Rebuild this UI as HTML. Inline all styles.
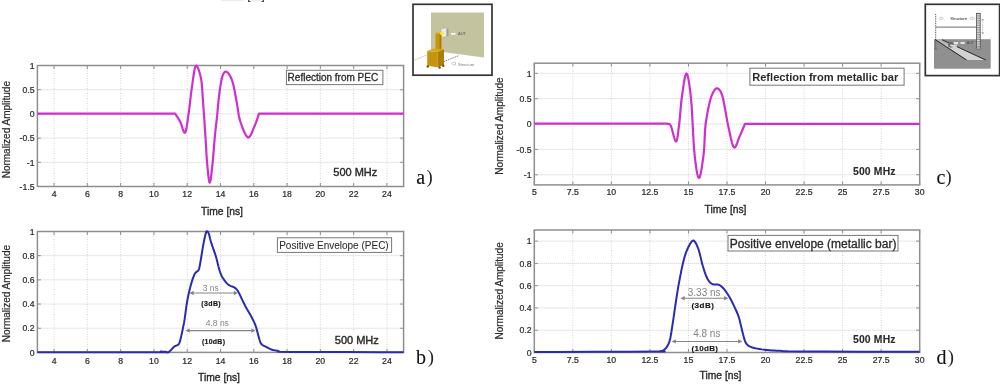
<!DOCTYPE html>
<html><head><meta charset="utf-8"><style>
html,body{margin:0;padding:0;background:#fff;}
body{width:1000px;height:387px;overflow:hidden;}
svg{display:block;filter:blur(0.45px);}
</style></head><body>
<svg width="1000" height="387" viewBox="0 0 1000 387">
<rect width="1000" height="387" fill="#fff"/>
<line x1="54.05" y1="65.50" x2="54.05" y2="186.50" stroke="#d4d4d4" stroke-width="1" stroke-dasharray="1,1.5"/>
<line x1="87.34" y1="65.50" x2="87.34" y2="186.50" stroke="#d4d4d4" stroke-width="1" stroke-dasharray="1,1.5"/>
<line x1="120.63" y1="65.50" x2="120.63" y2="186.50" stroke="#d4d4d4" stroke-width="1" stroke-dasharray="1,1.5"/>
<line x1="153.92" y1="65.50" x2="153.92" y2="186.50" stroke="#d4d4d4" stroke-width="1" stroke-dasharray="1,1.5"/>
<line x1="187.21" y1="65.50" x2="187.21" y2="186.50" stroke="#d4d4d4" stroke-width="1" stroke-dasharray="1,1.5"/>
<line x1="220.50" y1="65.50" x2="220.50" y2="186.50" stroke="#d4d4d4" stroke-width="1" stroke-dasharray="1,1.5"/>
<line x1="253.79" y1="65.50" x2="253.79" y2="186.50" stroke="#d4d4d4" stroke-width="1" stroke-dasharray="1,1.5"/>
<line x1="287.08" y1="65.50" x2="287.08" y2="186.50" stroke="#d4d4d4" stroke-width="1" stroke-dasharray="1,1.5"/>
<line x1="320.37" y1="65.50" x2="320.37" y2="186.50" stroke="#d4d4d4" stroke-width="1" stroke-dasharray="1,1.5"/>
<line x1="353.66" y1="65.50" x2="353.66" y2="186.50" stroke="#d4d4d4" stroke-width="1" stroke-dasharray="1,1.5"/>
<line x1="386.95" y1="65.50" x2="386.95" y2="186.50" stroke="#d4d4d4" stroke-width="1" stroke-dasharray="1,1.5"/>
<line x1="37.40" y1="89.70" x2="403.60" y2="89.70" stroke="#cdcdcd" stroke-width="1" stroke-dasharray="1,1"/>
<line x1="37.40" y1="113.90" x2="403.60" y2="113.90" stroke="#cdcdcd" stroke-width="1" stroke-dasharray="1,1"/>
<line x1="37.40" y1="138.10" x2="403.60" y2="138.10" stroke="#cdcdcd" stroke-width="1" stroke-dasharray="1,1"/>
<line x1="37.40" y1="162.30" x2="403.60" y2="162.30" stroke="#cdcdcd" stroke-width="1" stroke-dasharray="1,1"/>
<line x1="54.05" y1="186.50" x2="54.05" y2="183.00" stroke="#8e8e8e" stroke-width="1"/>
<line x1="54.05" y1="65.50" x2="54.05" y2="69.00" stroke="#8e8e8e" stroke-width="1"/>
<line x1="87.34" y1="186.50" x2="87.34" y2="183.00" stroke="#8e8e8e" stroke-width="1"/>
<line x1="87.34" y1="65.50" x2="87.34" y2="69.00" stroke="#8e8e8e" stroke-width="1"/>
<line x1="120.63" y1="186.50" x2="120.63" y2="183.00" stroke="#8e8e8e" stroke-width="1"/>
<line x1="120.63" y1="65.50" x2="120.63" y2="69.00" stroke="#8e8e8e" stroke-width="1"/>
<line x1="153.92" y1="186.50" x2="153.92" y2="183.00" stroke="#8e8e8e" stroke-width="1"/>
<line x1="153.92" y1="65.50" x2="153.92" y2="69.00" stroke="#8e8e8e" stroke-width="1"/>
<line x1="187.21" y1="186.50" x2="187.21" y2="183.00" stroke="#8e8e8e" stroke-width="1"/>
<line x1="187.21" y1="65.50" x2="187.21" y2="69.00" stroke="#8e8e8e" stroke-width="1"/>
<line x1="220.50" y1="186.50" x2="220.50" y2="183.00" stroke="#8e8e8e" stroke-width="1"/>
<line x1="220.50" y1="65.50" x2="220.50" y2="69.00" stroke="#8e8e8e" stroke-width="1"/>
<line x1="253.79" y1="186.50" x2="253.79" y2="183.00" stroke="#8e8e8e" stroke-width="1"/>
<line x1="253.79" y1="65.50" x2="253.79" y2="69.00" stroke="#8e8e8e" stroke-width="1"/>
<line x1="287.08" y1="186.50" x2="287.08" y2="183.00" stroke="#8e8e8e" stroke-width="1"/>
<line x1="287.08" y1="65.50" x2="287.08" y2="69.00" stroke="#8e8e8e" stroke-width="1"/>
<line x1="320.37" y1="186.50" x2="320.37" y2="183.00" stroke="#8e8e8e" stroke-width="1"/>
<line x1="320.37" y1="65.50" x2="320.37" y2="69.00" stroke="#8e8e8e" stroke-width="1"/>
<line x1="353.66" y1="186.50" x2="353.66" y2="183.00" stroke="#8e8e8e" stroke-width="1"/>
<line x1="353.66" y1="65.50" x2="353.66" y2="69.00" stroke="#8e8e8e" stroke-width="1"/>
<line x1="386.95" y1="186.50" x2="386.95" y2="183.00" stroke="#8e8e8e" stroke-width="1"/>
<line x1="386.95" y1="65.50" x2="386.95" y2="69.00" stroke="#8e8e8e" stroke-width="1"/>
<line x1="37.40" y1="65.50" x2="40.90" y2="65.50" stroke="#8e8e8e" stroke-width="1"/>
<line x1="403.60" y1="65.50" x2="400.10" y2="65.50" stroke="#8e8e8e" stroke-width="1"/>
<line x1="37.40" y1="89.70" x2="40.90" y2="89.70" stroke="#8e8e8e" stroke-width="1"/>
<line x1="403.60" y1="89.70" x2="400.10" y2="89.70" stroke="#8e8e8e" stroke-width="1"/>
<line x1="37.40" y1="113.90" x2="40.90" y2="113.90" stroke="#8e8e8e" stroke-width="1"/>
<line x1="403.60" y1="113.90" x2="400.10" y2="113.90" stroke="#8e8e8e" stroke-width="1"/>
<line x1="37.40" y1="138.10" x2="40.90" y2="138.10" stroke="#8e8e8e" stroke-width="1"/>
<line x1="403.60" y1="138.10" x2="400.10" y2="138.10" stroke="#8e8e8e" stroke-width="1"/>
<line x1="37.40" y1="162.30" x2="40.90" y2="162.30" stroke="#8e8e8e" stroke-width="1"/>
<line x1="403.60" y1="162.30" x2="400.10" y2="162.30" stroke="#8e8e8e" stroke-width="1"/>
<line x1="37.40" y1="186.50" x2="40.90" y2="186.50" stroke="#8e8e8e" stroke-width="1"/>
<line x1="403.60" y1="186.50" x2="400.10" y2="186.50" stroke="#8e8e8e" stroke-width="1"/>
<rect x="37.40" y="65.50" width="366.20" height="121.00" fill="none" stroke="#8e8e8e" stroke-width="1.5"/>
<text x="54.05" y="197.00" font-family="Liberation Sans, sans-serif" font-size="8.7" fill="#2a2a2a" stroke="#2a2a2a" stroke-width="0.22" text-anchor="middle">4</text>
<text x="87.34" y="197.00" font-family="Liberation Sans, sans-serif" font-size="8.7" fill="#2a2a2a" stroke="#2a2a2a" stroke-width="0.22" text-anchor="middle">6</text>
<text x="120.63" y="197.00" font-family="Liberation Sans, sans-serif" font-size="8.7" fill="#2a2a2a" stroke="#2a2a2a" stroke-width="0.22" text-anchor="middle">8</text>
<text x="153.92" y="197.00" font-family="Liberation Sans, sans-serif" font-size="8.7" fill="#2a2a2a" stroke="#2a2a2a" stroke-width="0.22" text-anchor="middle">10</text>
<text x="187.21" y="197.00" font-family="Liberation Sans, sans-serif" font-size="8.7" fill="#2a2a2a" stroke="#2a2a2a" stroke-width="0.22" text-anchor="middle">12</text>
<text x="220.50" y="197.00" font-family="Liberation Sans, sans-serif" font-size="8.7" fill="#2a2a2a" stroke="#2a2a2a" stroke-width="0.22" text-anchor="middle">14</text>
<text x="253.79" y="197.00" font-family="Liberation Sans, sans-serif" font-size="8.7" fill="#2a2a2a" stroke="#2a2a2a" stroke-width="0.22" text-anchor="middle">16</text>
<text x="287.08" y="197.00" font-family="Liberation Sans, sans-serif" font-size="8.7" fill="#2a2a2a" stroke="#2a2a2a" stroke-width="0.22" text-anchor="middle">18</text>
<text x="320.37" y="197.00" font-family="Liberation Sans, sans-serif" font-size="8.7" fill="#2a2a2a" stroke="#2a2a2a" stroke-width="0.22" text-anchor="middle">20</text>
<text x="353.66" y="197.00" font-family="Liberation Sans, sans-serif" font-size="8.7" fill="#2a2a2a" stroke="#2a2a2a" stroke-width="0.22" text-anchor="middle">22</text>
<text x="386.95" y="197.00" font-family="Liberation Sans, sans-serif" font-size="8.7" fill="#2a2a2a" stroke="#2a2a2a" stroke-width="0.22" text-anchor="middle">24</text>
<text x="34.60" y="68.70" font-family="Liberation Sans, sans-serif" font-size="8.7" fill="#2a2a2a" stroke="#2a2a2a" stroke-width="0.22" text-anchor="end">1</text>
<text x="34.60" y="92.90" font-family="Liberation Sans, sans-serif" font-size="8.7" fill="#2a2a2a" stroke="#2a2a2a" stroke-width="0.22" text-anchor="end">0.5</text>
<text x="34.60" y="117.10" font-family="Liberation Sans, sans-serif" font-size="8.7" fill="#2a2a2a" stroke="#2a2a2a" stroke-width="0.22" text-anchor="end">0</text>
<text x="34.60" y="141.30" font-family="Liberation Sans, sans-serif" font-size="8.7" fill="#2a2a2a" stroke="#2a2a2a" stroke-width="0.22" text-anchor="end">-0.5</text>
<text x="34.60" y="165.50" font-family="Liberation Sans, sans-serif" font-size="8.7" fill="#2a2a2a" stroke="#2a2a2a" stroke-width="0.22" text-anchor="end">-1</text>
<text x="34.60" y="189.70" font-family="Liberation Sans, sans-serif" font-size="8.7" fill="#2a2a2a" stroke="#2a2a2a" stroke-width="0.22" text-anchor="end">-1.5</text>
<text x="222.00" y="214.90" font-family="Liberation Sans, sans-serif" font-size="10.3" fill="#2a2a2a" stroke="#2a2a2a" stroke-width="0.35" text-anchor="middle">Time [ns]</text>
<line x1="54.05" y1="231.50" x2="54.05" y2="352.40" stroke="#d4d4d4" stroke-width="1" stroke-dasharray="1,1.5"/>
<line x1="87.34" y1="231.50" x2="87.34" y2="352.40" stroke="#d4d4d4" stroke-width="1" stroke-dasharray="1,1.5"/>
<line x1="120.63" y1="231.50" x2="120.63" y2="352.40" stroke="#d4d4d4" stroke-width="1" stroke-dasharray="1,1.5"/>
<line x1="153.92" y1="231.50" x2="153.92" y2="352.40" stroke="#d4d4d4" stroke-width="1" stroke-dasharray="1,1.5"/>
<line x1="187.21" y1="231.50" x2="187.21" y2="352.40" stroke="#d4d4d4" stroke-width="1" stroke-dasharray="1,1.5"/>
<line x1="220.50" y1="231.50" x2="220.50" y2="352.40" stroke="#d4d4d4" stroke-width="1" stroke-dasharray="1,1.5"/>
<line x1="253.79" y1="231.50" x2="253.79" y2="352.40" stroke="#d4d4d4" stroke-width="1" stroke-dasharray="1,1.5"/>
<line x1="287.08" y1="231.50" x2="287.08" y2="352.40" stroke="#d4d4d4" stroke-width="1" stroke-dasharray="1,1.5"/>
<line x1="320.37" y1="231.50" x2="320.37" y2="352.40" stroke="#d4d4d4" stroke-width="1" stroke-dasharray="1,1.5"/>
<line x1="353.66" y1="231.50" x2="353.66" y2="352.40" stroke="#d4d4d4" stroke-width="1" stroke-dasharray="1,1.5"/>
<line x1="386.95" y1="231.50" x2="386.95" y2="352.40" stroke="#d4d4d4" stroke-width="1" stroke-dasharray="1,1.5"/>
<line x1="37.40" y1="328.22" x2="403.60" y2="328.22" stroke="#cdcdcd" stroke-width="1" stroke-dasharray="1,1"/>
<line x1="37.40" y1="304.04" x2="403.60" y2="304.04" stroke="#cdcdcd" stroke-width="1" stroke-dasharray="1,1"/>
<line x1="37.40" y1="279.86" x2="403.60" y2="279.86" stroke="#cdcdcd" stroke-width="1" stroke-dasharray="1,1"/>
<line x1="37.40" y1="255.68" x2="403.60" y2="255.68" stroke="#cdcdcd" stroke-width="1" stroke-dasharray="1,1"/>
<line x1="54.05" y1="352.40" x2="54.05" y2="348.90" stroke="#8e8e8e" stroke-width="1"/>
<line x1="54.05" y1="231.50" x2="54.05" y2="235.00" stroke="#8e8e8e" stroke-width="1"/>
<line x1="87.34" y1="352.40" x2="87.34" y2="348.90" stroke="#8e8e8e" stroke-width="1"/>
<line x1="87.34" y1="231.50" x2="87.34" y2="235.00" stroke="#8e8e8e" stroke-width="1"/>
<line x1="120.63" y1="352.40" x2="120.63" y2="348.90" stroke="#8e8e8e" stroke-width="1"/>
<line x1="120.63" y1="231.50" x2="120.63" y2="235.00" stroke="#8e8e8e" stroke-width="1"/>
<line x1="153.92" y1="352.40" x2="153.92" y2="348.90" stroke="#8e8e8e" stroke-width="1"/>
<line x1="153.92" y1="231.50" x2="153.92" y2="235.00" stroke="#8e8e8e" stroke-width="1"/>
<line x1="187.21" y1="352.40" x2="187.21" y2="348.90" stroke="#8e8e8e" stroke-width="1"/>
<line x1="187.21" y1="231.50" x2="187.21" y2="235.00" stroke="#8e8e8e" stroke-width="1"/>
<line x1="220.50" y1="352.40" x2="220.50" y2="348.90" stroke="#8e8e8e" stroke-width="1"/>
<line x1="220.50" y1="231.50" x2="220.50" y2="235.00" stroke="#8e8e8e" stroke-width="1"/>
<line x1="253.79" y1="352.40" x2="253.79" y2="348.90" stroke="#8e8e8e" stroke-width="1"/>
<line x1="253.79" y1="231.50" x2="253.79" y2="235.00" stroke="#8e8e8e" stroke-width="1"/>
<line x1="287.08" y1="352.40" x2="287.08" y2="348.90" stroke="#8e8e8e" stroke-width="1"/>
<line x1="287.08" y1="231.50" x2="287.08" y2="235.00" stroke="#8e8e8e" stroke-width="1"/>
<line x1="320.37" y1="352.40" x2="320.37" y2="348.90" stroke="#8e8e8e" stroke-width="1"/>
<line x1="320.37" y1="231.50" x2="320.37" y2="235.00" stroke="#8e8e8e" stroke-width="1"/>
<line x1="353.66" y1="352.40" x2="353.66" y2="348.90" stroke="#8e8e8e" stroke-width="1"/>
<line x1="353.66" y1="231.50" x2="353.66" y2="235.00" stroke="#8e8e8e" stroke-width="1"/>
<line x1="386.95" y1="352.40" x2="386.95" y2="348.90" stroke="#8e8e8e" stroke-width="1"/>
<line x1="386.95" y1="231.50" x2="386.95" y2="235.00" stroke="#8e8e8e" stroke-width="1"/>
<line x1="37.40" y1="352.40" x2="40.90" y2="352.40" stroke="#8e8e8e" stroke-width="1"/>
<line x1="403.60" y1="352.40" x2="400.10" y2="352.40" stroke="#8e8e8e" stroke-width="1"/>
<line x1="37.40" y1="328.22" x2="40.90" y2="328.22" stroke="#8e8e8e" stroke-width="1"/>
<line x1="403.60" y1="328.22" x2="400.10" y2="328.22" stroke="#8e8e8e" stroke-width="1"/>
<line x1="37.40" y1="304.04" x2="40.90" y2="304.04" stroke="#8e8e8e" stroke-width="1"/>
<line x1="403.60" y1="304.04" x2="400.10" y2="304.04" stroke="#8e8e8e" stroke-width="1"/>
<line x1="37.40" y1="279.86" x2="40.90" y2="279.86" stroke="#8e8e8e" stroke-width="1"/>
<line x1="403.60" y1="279.86" x2="400.10" y2="279.86" stroke="#8e8e8e" stroke-width="1"/>
<line x1="37.40" y1="255.68" x2="40.90" y2="255.68" stroke="#8e8e8e" stroke-width="1"/>
<line x1="403.60" y1="255.68" x2="400.10" y2="255.68" stroke="#8e8e8e" stroke-width="1"/>
<line x1="37.40" y1="231.50" x2="40.90" y2="231.50" stroke="#8e8e8e" stroke-width="1"/>
<line x1="403.60" y1="231.50" x2="400.10" y2="231.50" stroke="#8e8e8e" stroke-width="1"/>
<rect x="37.40" y="231.50" width="366.20" height="120.90" fill="none" stroke="#8e8e8e" stroke-width="1.5"/>
<text x="54.05" y="363.60" font-family="Liberation Sans, sans-serif" font-size="8.7" fill="#2a2a2a" stroke="#2a2a2a" stroke-width="0.22" text-anchor="middle">4</text>
<text x="87.34" y="363.60" font-family="Liberation Sans, sans-serif" font-size="8.7" fill="#2a2a2a" stroke="#2a2a2a" stroke-width="0.22" text-anchor="middle">6</text>
<text x="120.63" y="363.60" font-family="Liberation Sans, sans-serif" font-size="8.7" fill="#2a2a2a" stroke="#2a2a2a" stroke-width="0.22" text-anchor="middle">8</text>
<text x="153.92" y="363.60" font-family="Liberation Sans, sans-serif" font-size="8.7" fill="#2a2a2a" stroke="#2a2a2a" stroke-width="0.22" text-anchor="middle">10</text>
<text x="187.21" y="363.60" font-family="Liberation Sans, sans-serif" font-size="8.7" fill="#2a2a2a" stroke="#2a2a2a" stroke-width="0.22" text-anchor="middle">12</text>
<text x="220.50" y="363.60" font-family="Liberation Sans, sans-serif" font-size="8.7" fill="#2a2a2a" stroke="#2a2a2a" stroke-width="0.22" text-anchor="middle">14</text>
<text x="253.79" y="363.60" font-family="Liberation Sans, sans-serif" font-size="8.7" fill="#2a2a2a" stroke="#2a2a2a" stroke-width="0.22" text-anchor="middle">16</text>
<text x="287.08" y="363.60" font-family="Liberation Sans, sans-serif" font-size="8.7" fill="#2a2a2a" stroke="#2a2a2a" stroke-width="0.22" text-anchor="middle">18</text>
<text x="320.37" y="363.60" font-family="Liberation Sans, sans-serif" font-size="8.7" fill="#2a2a2a" stroke="#2a2a2a" stroke-width="0.22" text-anchor="middle">20</text>
<text x="353.66" y="363.60" font-family="Liberation Sans, sans-serif" font-size="8.7" fill="#2a2a2a" stroke="#2a2a2a" stroke-width="0.22" text-anchor="middle">22</text>
<text x="386.95" y="363.60" font-family="Liberation Sans, sans-serif" font-size="8.7" fill="#2a2a2a" stroke="#2a2a2a" stroke-width="0.22" text-anchor="middle">24</text>
<text x="34.60" y="355.60" font-family="Liberation Sans, sans-serif" font-size="8.7" fill="#2a2a2a" stroke="#2a2a2a" stroke-width="0.22" text-anchor="end">0</text>
<text x="34.60" y="331.42" font-family="Liberation Sans, sans-serif" font-size="8.7" fill="#2a2a2a" stroke="#2a2a2a" stroke-width="0.22" text-anchor="end">0.2</text>
<text x="34.60" y="307.24" font-family="Liberation Sans, sans-serif" font-size="8.7" fill="#2a2a2a" stroke="#2a2a2a" stroke-width="0.22" text-anchor="end">0.4</text>
<text x="34.60" y="283.06" font-family="Liberation Sans, sans-serif" font-size="8.7" fill="#2a2a2a" stroke="#2a2a2a" stroke-width="0.22" text-anchor="end">0.6</text>
<text x="34.60" y="258.88" font-family="Liberation Sans, sans-serif" font-size="8.7" fill="#2a2a2a" stroke="#2a2a2a" stroke-width="0.22" text-anchor="end">0.8</text>
<text x="34.60" y="234.70" font-family="Liberation Sans, sans-serif" font-size="8.7" fill="#2a2a2a" stroke="#2a2a2a" stroke-width="0.22" text-anchor="end">1</text>
<text x="219.00" y="380.50" font-family="Liberation Sans, sans-serif" font-size="10.3" fill="#2a2a2a" stroke="#2a2a2a" stroke-width="0.35" text-anchor="middle">Time [ns]</text>
<line x1="572.84" y1="63.20" x2="572.84" y2="184.90" stroke="#d4d4d4" stroke-width="1" stroke-dasharray="1,1.5"/>
<line x1="611.38" y1="63.20" x2="611.38" y2="184.90" stroke="#d4d4d4" stroke-width="1" stroke-dasharray="1,1.5"/>
<line x1="649.92" y1="63.20" x2="649.92" y2="184.90" stroke="#d4d4d4" stroke-width="1" stroke-dasharray="1,1.5"/>
<line x1="688.46" y1="63.20" x2="688.46" y2="184.90" stroke="#d4d4d4" stroke-width="1" stroke-dasharray="1,1.5"/>
<line x1="727.00" y1="63.20" x2="727.00" y2="184.90" stroke="#d4d4d4" stroke-width="1" stroke-dasharray="1,1.5"/>
<line x1="765.54" y1="63.20" x2="765.54" y2="184.90" stroke="#d4d4d4" stroke-width="1" stroke-dasharray="1,1.5"/>
<line x1="804.08" y1="63.20" x2="804.08" y2="184.90" stroke="#d4d4d4" stroke-width="1" stroke-dasharray="1,1.5"/>
<line x1="842.62" y1="63.20" x2="842.62" y2="184.90" stroke="#d4d4d4" stroke-width="1" stroke-dasharray="1,1.5"/>
<line x1="881.16" y1="63.20" x2="881.16" y2="184.90" stroke="#d4d4d4" stroke-width="1" stroke-dasharray="1,1.5"/>
<line x1="534.30" y1="174.76" x2="919.70" y2="174.76" stroke="#cdcdcd" stroke-width="1" stroke-dasharray="1,1"/>
<line x1="534.30" y1="149.40" x2="919.70" y2="149.40" stroke="#cdcdcd" stroke-width="1" stroke-dasharray="1,1"/>
<line x1="534.30" y1="124.05" x2="919.70" y2="124.05" stroke="#cdcdcd" stroke-width="1" stroke-dasharray="1,1"/>
<line x1="534.30" y1="98.70" x2="919.70" y2="98.70" stroke="#cdcdcd" stroke-width="1" stroke-dasharray="1,1"/>
<line x1="534.30" y1="73.34" x2="919.70" y2="73.34" stroke="#cdcdcd" stroke-width="1" stroke-dasharray="1,1"/>
<line x1="534.30" y1="184.90" x2="534.30" y2="181.40" stroke="#8e8e8e" stroke-width="1"/>
<line x1="534.30" y1="63.20" x2="534.30" y2="66.70" stroke="#8e8e8e" stroke-width="1"/>
<line x1="572.84" y1="184.90" x2="572.84" y2="181.40" stroke="#8e8e8e" stroke-width="1"/>
<line x1="572.84" y1="63.20" x2="572.84" y2="66.70" stroke="#8e8e8e" stroke-width="1"/>
<line x1="611.38" y1="184.90" x2="611.38" y2="181.40" stroke="#8e8e8e" stroke-width="1"/>
<line x1="611.38" y1="63.20" x2="611.38" y2="66.70" stroke="#8e8e8e" stroke-width="1"/>
<line x1="649.92" y1="184.90" x2="649.92" y2="181.40" stroke="#8e8e8e" stroke-width="1"/>
<line x1="649.92" y1="63.20" x2="649.92" y2="66.70" stroke="#8e8e8e" stroke-width="1"/>
<line x1="688.46" y1="184.90" x2="688.46" y2="181.40" stroke="#8e8e8e" stroke-width="1"/>
<line x1="688.46" y1="63.20" x2="688.46" y2="66.70" stroke="#8e8e8e" stroke-width="1"/>
<line x1="727.00" y1="184.90" x2="727.00" y2="181.40" stroke="#8e8e8e" stroke-width="1"/>
<line x1="727.00" y1="63.20" x2="727.00" y2="66.70" stroke="#8e8e8e" stroke-width="1"/>
<line x1="765.54" y1="184.90" x2="765.54" y2="181.40" stroke="#8e8e8e" stroke-width="1"/>
<line x1="765.54" y1="63.20" x2="765.54" y2="66.70" stroke="#8e8e8e" stroke-width="1"/>
<line x1="804.08" y1="184.90" x2="804.08" y2="181.40" stroke="#8e8e8e" stroke-width="1"/>
<line x1="804.08" y1="63.20" x2="804.08" y2="66.70" stroke="#8e8e8e" stroke-width="1"/>
<line x1="842.62" y1="184.90" x2="842.62" y2="181.40" stroke="#8e8e8e" stroke-width="1"/>
<line x1="842.62" y1="63.20" x2="842.62" y2="66.70" stroke="#8e8e8e" stroke-width="1"/>
<line x1="881.16" y1="184.90" x2="881.16" y2="181.40" stroke="#8e8e8e" stroke-width="1"/>
<line x1="881.16" y1="63.20" x2="881.16" y2="66.70" stroke="#8e8e8e" stroke-width="1"/>
<line x1="919.70" y1="184.90" x2="919.70" y2="181.40" stroke="#8e8e8e" stroke-width="1"/>
<line x1="919.70" y1="63.20" x2="919.70" y2="66.70" stroke="#8e8e8e" stroke-width="1"/>
<line x1="534.30" y1="174.76" x2="537.80" y2="174.76" stroke="#8e8e8e" stroke-width="1"/>
<line x1="919.70" y1="174.76" x2="916.20" y2="174.76" stroke="#8e8e8e" stroke-width="1"/>
<line x1="534.30" y1="149.40" x2="537.80" y2="149.40" stroke="#8e8e8e" stroke-width="1"/>
<line x1="919.70" y1="149.40" x2="916.20" y2="149.40" stroke="#8e8e8e" stroke-width="1"/>
<line x1="534.30" y1="124.05" x2="537.80" y2="124.05" stroke="#8e8e8e" stroke-width="1"/>
<line x1="919.70" y1="124.05" x2="916.20" y2="124.05" stroke="#8e8e8e" stroke-width="1"/>
<line x1="534.30" y1="98.70" x2="537.80" y2="98.70" stroke="#8e8e8e" stroke-width="1"/>
<line x1="919.70" y1="98.70" x2="916.20" y2="98.70" stroke="#8e8e8e" stroke-width="1"/>
<line x1="534.30" y1="73.34" x2="537.80" y2="73.34" stroke="#8e8e8e" stroke-width="1"/>
<line x1="919.70" y1="73.34" x2="916.20" y2="73.34" stroke="#8e8e8e" stroke-width="1"/>
<rect x="534.30" y="63.20" width="385.40" height="121.70" fill="none" stroke="#8e8e8e" stroke-width="1.5"/>
<text x="534.30" y="195.10" font-family="Liberation Sans, sans-serif" font-size="8.7" fill="#2a2a2a" stroke="#2a2a2a" stroke-width="0.22" text-anchor="middle">5</text>
<text x="572.84" y="195.10" font-family="Liberation Sans, sans-serif" font-size="8.7" fill="#2a2a2a" stroke="#2a2a2a" stroke-width="0.22" text-anchor="middle">7.5</text>
<text x="611.38" y="195.10" font-family="Liberation Sans, sans-serif" font-size="8.7" fill="#2a2a2a" stroke="#2a2a2a" stroke-width="0.22" text-anchor="middle">10</text>
<text x="649.92" y="195.10" font-family="Liberation Sans, sans-serif" font-size="8.7" fill="#2a2a2a" stroke="#2a2a2a" stroke-width="0.22" text-anchor="middle">12.5</text>
<text x="688.46" y="195.10" font-family="Liberation Sans, sans-serif" font-size="8.7" fill="#2a2a2a" stroke="#2a2a2a" stroke-width="0.22" text-anchor="middle">15</text>
<text x="727.00" y="195.10" font-family="Liberation Sans, sans-serif" font-size="8.7" fill="#2a2a2a" stroke="#2a2a2a" stroke-width="0.22" text-anchor="middle">17.5</text>
<text x="765.54" y="195.10" font-family="Liberation Sans, sans-serif" font-size="8.7" fill="#2a2a2a" stroke="#2a2a2a" stroke-width="0.22" text-anchor="middle">20</text>
<text x="804.08" y="195.10" font-family="Liberation Sans, sans-serif" font-size="8.7" fill="#2a2a2a" stroke="#2a2a2a" stroke-width="0.22" text-anchor="middle">22.5</text>
<text x="842.62" y="195.10" font-family="Liberation Sans, sans-serif" font-size="8.7" fill="#2a2a2a" stroke="#2a2a2a" stroke-width="0.22" text-anchor="middle">25</text>
<text x="881.16" y="195.10" font-family="Liberation Sans, sans-serif" font-size="8.7" fill="#2a2a2a" stroke="#2a2a2a" stroke-width="0.22" text-anchor="middle">27.5</text>
<text x="919.70" y="195.10" font-family="Liberation Sans, sans-serif" font-size="8.7" fill="#2a2a2a" stroke="#2a2a2a" stroke-width="0.22" text-anchor="middle">30</text>
<text x="531.50" y="177.96" font-family="Liberation Sans, sans-serif" font-size="8.7" fill="#2a2a2a" stroke="#2a2a2a" stroke-width="0.22" text-anchor="end">-1</text>
<text x="531.50" y="152.60" font-family="Liberation Sans, sans-serif" font-size="8.7" fill="#2a2a2a" stroke="#2a2a2a" stroke-width="0.22" text-anchor="end">-0.5</text>
<text x="531.50" y="127.25" font-family="Liberation Sans, sans-serif" font-size="8.7" fill="#2a2a2a" stroke="#2a2a2a" stroke-width="0.22" text-anchor="end">0</text>
<text x="531.50" y="101.90" font-family="Liberation Sans, sans-serif" font-size="8.7" fill="#2a2a2a" stroke="#2a2a2a" stroke-width="0.22" text-anchor="end">0.5</text>
<text x="531.50" y="76.54" font-family="Liberation Sans, sans-serif" font-size="8.7" fill="#2a2a2a" stroke="#2a2a2a" stroke-width="0.22" text-anchor="end">1</text>
<text x="725.50" y="213.40" font-family="Liberation Sans, sans-serif" font-size="10.3" fill="#2a2a2a" stroke="#2a2a2a" stroke-width="0.35" text-anchor="middle">Time [ns]</text>
<line x1="572.84" y1="230.00" x2="572.84" y2="352.50" stroke="#d4d4d4" stroke-width="1" stroke-dasharray="1,1.5"/>
<line x1="611.38" y1="230.00" x2="611.38" y2="352.50" stroke="#d4d4d4" stroke-width="1" stroke-dasharray="1,1.5"/>
<line x1="649.92" y1="230.00" x2="649.92" y2="352.50" stroke="#d4d4d4" stroke-width="1" stroke-dasharray="1,1.5"/>
<line x1="688.46" y1="230.00" x2="688.46" y2="352.50" stroke="#d4d4d4" stroke-width="1" stroke-dasharray="1,1.5"/>
<line x1="727.00" y1="230.00" x2="727.00" y2="352.50" stroke="#d4d4d4" stroke-width="1" stroke-dasharray="1,1.5"/>
<line x1="765.54" y1="230.00" x2="765.54" y2="352.50" stroke="#d4d4d4" stroke-width="1" stroke-dasharray="1,1.5"/>
<line x1="804.08" y1="230.00" x2="804.08" y2="352.50" stroke="#d4d4d4" stroke-width="1" stroke-dasharray="1,1.5"/>
<line x1="842.62" y1="230.00" x2="842.62" y2="352.50" stroke="#d4d4d4" stroke-width="1" stroke-dasharray="1,1.5"/>
<line x1="881.16" y1="230.00" x2="881.16" y2="352.50" stroke="#d4d4d4" stroke-width="1" stroke-dasharray="1,1.5"/>
<line x1="534.30" y1="330.23" x2="919.70" y2="330.23" stroke="#cdcdcd" stroke-width="1" stroke-dasharray="1,1"/>
<line x1="534.30" y1="307.95" x2="919.70" y2="307.95" stroke="#cdcdcd" stroke-width="1" stroke-dasharray="1,1"/>
<line x1="534.30" y1="285.68" x2="919.70" y2="285.68" stroke="#cdcdcd" stroke-width="1" stroke-dasharray="1,1"/>
<line x1="534.30" y1="263.41" x2="919.70" y2="263.41" stroke="#cdcdcd" stroke-width="1" stroke-dasharray="1,1"/>
<line x1="534.30" y1="241.14" x2="919.70" y2="241.14" stroke="#cdcdcd" stroke-width="1" stroke-dasharray="1,1"/>
<line x1="534.30" y1="352.50" x2="534.30" y2="349.00" stroke="#8e8e8e" stroke-width="1"/>
<line x1="534.30" y1="230.00" x2="534.30" y2="233.50" stroke="#8e8e8e" stroke-width="1"/>
<line x1="572.84" y1="352.50" x2="572.84" y2="349.00" stroke="#8e8e8e" stroke-width="1"/>
<line x1="572.84" y1="230.00" x2="572.84" y2="233.50" stroke="#8e8e8e" stroke-width="1"/>
<line x1="611.38" y1="352.50" x2="611.38" y2="349.00" stroke="#8e8e8e" stroke-width="1"/>
<line x1="611.38" y1="230.00" x2="611.38" y2="233.50" stroke="#8e8e8e" stroke-width="1"/>
<line x1="649.92" y1="352.50" x2="649.92" y2="349.00" stroke="#8e8e8e" stroke-width="1"/>
<line x1="649.92" y1="230.00" x2="649.92" y2="233.50" stroke="#8e8e8e" stroke-width="1"/>
<line x1="688.46" y1="352.50" x2="688.46" y2="349.00" stroke="#8e8e8e" stroke-width="1"/>
<line x1="688.46" y1="230.00" x2="688.46" y2="233.50" stroke="#8e8e8e" stroke-width="1"/>
<line x1="727.00" y1="352.50" x2="727.00" y2="349.00" stroke="#8e8e8e" stroke-width="1"/>
<line x1="727.00" y1="230.00" x2="727.00" y2="233.50" stroke="#8e8e8e" stroke-width="1"/>
<line x1="765.54" y1="352.50" x2="765.54" y2="349.00" stroke="#8e8e8e" stroke-width="1"/>
<line x1="765.54" y1="230.00" x2="765.54" y2="233.50" stroke="#8e8e8e" stroke-width="1"/>
<line x1="804.08" y1="352.50" x2="804.08" y2="349.00" stroke="#8e8e8e" stroke-width="1"/>
<line x1="804.08" y1="230.00" x2="804.08" y2="233.50" stroke="#8e8e8e" stroke-width="1"/>
<line x1="842.62" y1="352.50" x2="842.62" y2="349.00" stroke="#8e8e8e" stroke-width="1"/>
<line x1="842.62" y1="230.00" x2="842.62" y2="233.50" stroke="#8e8e8e" stroke-width="1"/>
<line x1="881.16" y1="352.50" x2="881.16" y2="349.00" stroke="#8e8e8e" stroke-width="1"/>
<line x1="881.16" y1="230.00" x2="881.16" y2="233.50" stroke="#8e8e8e" stroke-width="1"/>
<line x1="919.70" y1="352.50" x2="919.70" y2="349.00" stroke="#8e8e8e" stroke-width="1"/>
<line x1="919.70" y1="230.00" x2="919.70" y2="233.50" stroke="#8e8e8e" stroke-width="1"/>
<line x1="534.30" y1="352.50" x2="537.80" y2="352.50" stroke="#8e8e8e" stroke-width="1"/>
<line x1="919.70" y1="352.50" x2="916.20" y2="352.50" stroke="#8e8e8e" stroke-width="1"/>
<line x1="534.30" y1="330.23" x2="537.80" y2="330.23" stroke="#8e8e8e" stroke-width="1"/>
<line x1="919.70" y1="330.23" x2="916.20" y2="330.23" stroke="#8e8e8e" stroke-width="1"/>
<line x1="534.30" y1="307.95" x2="537.80" y2="307.95" stroke="#8e8e8e" stroke-width="1"/>
<line x1="919.70" y1="307.95" x2="916.20" y2="307.95" stroke="#8e8e8e" stroke-width="1"/>
<line x1="534.30" y1="285.68" x2="537.80" y2="285.68" stroke="#8e8e8e" stroke-width="1"/>
<line x1="919.70" y1="285.68" x2="916.20" y2="285.68" stroke="#8e8e8e" stroke-width="1"/>
<line x1="534.30" y1="263.41" x2="537.80" y2="263.41" stroke="#8e8e8e" stroke-width="1"/>
<line x1="919.70" y1="263.41" x2="916.20" y2="263.41" stroke="#8e8e8e" stroke-width="1"/>
<line x1="534.30" y1="241.14" x2="537.80" y2="241.14" stroke="#8e8e8e" stroke-width="1"/>
<line x1="919.70" y1="241.14" x2="916.20" y2="241.14" stroke="#8e8e8e" stroke-width="1"/>
<rect x="534.30" y="230.00" width="385.40" height="122.50" fill="none" stroke="#8e8e8e" stroke-width="1.5"/>
<text x="534.30" y="362.60" font-family="Liberation Sans, sans-serif" font-size="8.7" fill="#2a2a2a" stroke="#2a2a2a" stroke-width="0.22" text-anchor="middle">5</text>
<text x="572.84" y="362.60" font-family="Liberation Sans, sans-serif" font-size="8.7" fill="#2a2a2a" stroke="#2a2a2a" stroke-width="0.22" text-anchor="middle">7.5</text>
<text x="611.38" y="362.60" font-family="Liberation Sans, sans-serif" font-size="8.7" fill="#2a2a2a" stroke="#2a2a2a" stroke-width="0.22" text-anchor="middle">10</text>
<text x="649.92" y="362.60" font-family="Liberation Sans, sans-serif" font-size="8.7" fill="#2a2a2a" stroke="#2a2a2a" stroke-width="0.22" text-anchor="middle">12.5</text>
<text x="688.46" y="362.60" font-family="Liberation Sans, sans-serif" font-size="8.7" fill="#2a2a2a" stroke="#2a2a2a" stroke-width="0.22" text-anchor="middle">15</text>
<text x="727.00" y="362.60" font-family="Liberation Sans, sans-serif" font-size="8.7" fill="#2a2a2a" stroke="#2a2a2a" stroke-width="0.22" text-anchor="middle">17.5</text>
<text x="765.54" y="362.60" font-family="Liberation Sans, sans-serif" font-size="8.7" fill="#2a2a2a" stroke="#2a2a2a" stroke-width="0.22" text-anchor="middle">20</text>
<text x="804.08" y="362.60" font-family="Liberation Sans, sans-serif" font-size="8.7" fill="#2a2a2a" stroke="#2a2a2a" stroke-width="0.22" text-anchor="middle">22.5</text>
<text x="842.62" y="362.60" font-family="Liberation Sans, sans-serif" font-size="8.7" fill="#2a2a2a" stroke="#2a2a2a" stroke-width="0.22" text-anchor="middle">25</text>
<text x="881.16" y="362.60" font-family="Liberation Sans, sans-serif" font-size="8.7" fill="#2a2a2a" stroke="#2a2a2a" stroke-width="0.22" text-anchor="middle">27.5</text>
<text x="919.70" y="362.60" font-family="Liberation Sans, sans-serif" font-size="8.7" fill="#2a2a2a" stroke="#2a2a2a" stroke-width="0.22" text-anchor="middle">30</text>
<text x="531.50" y="355.70" font-family="Liberation Sans, sans-serif" font-size="8.7" fill="#2a2a2a" stroke="#2a2a2a" stroke-width="0.22" text-anchor="end">0</text>
<text x="531.50" y="333.43" font-family="Liberation Sans, sans-serif" font-size="8.7" fill="#2a2a2a" stroke="#2a2a2a" stroke-width="0.22" text-anchor="end">0.2</text>
<text x="531.50" y="311.15" font-family="Liberation Sans, sans-serif" font-size="8.7" fill="#2a2a2a" stroke="#2a2a2a" stroke-width="0.22" text-anchor="end">0.4</text>
<text x="531.50" y="288.88" font-family="Liberation Sans, sans-serif" font-size="8.7" fill="#2a2a2a" stroke="#2a2a2a" stroke-width="0.22" text-anchor="end">0.6</text>
<text x="531.50" y="266.61" font-family="Liberation Sans, sans-serif" font-size="8.7" fill="#2a2a2a" stroke="#2a2a2a" stroke-width="0.22" text-anchor="end">0.8</text>
<text x="531.50" y="244.34" font-family="Liberation Sans, sans-serif" font-size="8.7" fill="#2a2a2a" stroke="#2a2a2a" stroke-width="0.22" text-anchor="end">1</text>
<text x="720.50" y="378.70" font-family="Liberation Sans, sans-serif" font-size="10.3" fill="#2a2a2a" stroke="#2a2a2a" stroke-width="0.35" text-anchor="middle">Time [ns]</text>
<text transform="translate(10.00,129.70) rotate(-90)" font-family="Liberation Sans, sans-serif" font-size="10" fill="#2a2a2a" stroke="#2a2a2a" stroke-width="0.2" text-anchor="middle">Normalized Amplitude</text>
<text transform="translate(9.80,293.60) rotate(-90)" font-family="Liberation Sans, sans-serif" font-size="10" fill="#2a2a2a" stroke="#2a2a2a" stroke-width="0.2" text-anchor="middle">Normalized Amplitude</text>
<text transform="translate(502.90,126.00) rotate(-90)" font-family="Liberation Sans, sans-serif" font-size="10" fill="#2a2a2a" stroke="#2a2a2a" stroke-width="0.2" text-anchor="middle">Normalized Amplitude</text>
<text transform="translate(502.90,290.90) rotate(-90)" font-family="Liberation Sans, sans-serif" font-size="10" fill="#2a2a2a" stroke="#2a2a2a" stroke-width="0.2" text-anchor="middle">Normalized Amplitude</text>
<polyline points="37.40,113.60 175.20,113.60 175.60,114.23 176.12,115.06 176.75,116.03 177.45,117.13 178.19,118.31 178.93,119.54 179.64,120.78 180.30,122.00 180.92,123.43 181.55,125.21 182.18,127.15 182.80,129.06 183.41,130.76 184.00,132.06 184.56,132.77 185.10,132.70 185.60,131.79 186.08,130.17 186.53,128.01 186.96,125.42 187.37,122.55 187.78,119.55 188.19,116.56 188.60,113.70 189.00,110.87 189.38,107.87 189.75,104.75 190.11,101.56 190.48,98.33 190.86,95.12 191.27,91.96 191.70,88.90 192.16,85.69 192.63,82.16 193.12,78.54 193.62,75.00 194.14,71.76 194.67,69.01 195.23,66.96 195.80,65.80 196.42,65.61 197.10,66.24 197.81,67.54 198.53,69.34 199.24,71.50 199.90,73.86 200.50,76.28 201.00,78.60 201.40,80.87 201.71,83.27 201.96,85.81 202.17,88.51 202.35,91.39 202.54,94.46 202.75,97.76 203.00,101.30 203.29,105.23 203.61,109.59 203.94,114.25 204.28,119.07 204.61,123.91 204.93,128.64 205.23,133.12 205.50,137.20 205.74,140.93 205.94,144.46 206.12,147.81 206.29,151.01 206.47,154.08 206.65,157.05 206.86,159.95 207.10,162.80 207.38,165.81 207.68,169.03 208.00,172.29 208.33,175.40 208.67,178.17 209.02,180.42 209.36,181.95 209.70,182.60 210.03,182.26 210.37,181.07 210.72,179.19 211.06,176.77 211.41,173.99 211.74,170.99 212.08,167.94 212.40,165.00 212.71,161.97 213.02,158.64 213.32,155.08 213.62,151.39 213.91,147.66 214.21,144.00 214.50,140.48 214.80,137.20 215.10,134.16 215.40,131.25 215.71,128.46 216.01,125.74 216.31,123.06 216.61,120.40 216.91,117.73 217.20,115.00 217.48,112.21 217.74,109.38 217.99,106.54 218.24,103.71 218.50,100.92 218.78,98.19 219.07,95.54 219.40,93.00 219.75,90.49 220.12,87.96 220.51,85.45 220.91,83.03 221.33,80.76 221.77,78.69 222.23,76.89 222.70,75.40 223.19,74.21 223.70,73.26 224.22,72.54 224.76,72.03 225.32,71.74 225.90,71.66 226.49,71.78 227.10,72.10 227.74,72.62 228.42,73.36 229.13,74.31 229.85,75.47 230.57,76.82 231.28,78.36 231.96,80.09 232.60,82.00 233.21,84.20 233.80,86.75 234.38,89.56 234.94,92.53 235.48,95.55 236.00,98.53 236.51,101.38 237.00,104.00 237.44,106.41 237.80,108.73 238.12,110.96 238.44,113.13 238.79,115.25 239.19,117.34 239.68,119.42 240.30,121.50 241.06,123.75 241.94,126.23 242.91,128.78 243.94,131.26 245.00,133.51 246.05,135.38 247.06,136.73 248.00,137.40 248.89,137.29 249.78,136.49 250.65,135.17 251.51,133.47 252.33,131.55 253.13,129.56 253.89,127.66 254.60,126.00 255.29,124.41 255.96,122.68 256.60,120.88 257.21,119.09 257.77,117.39 258.26,115.85 258.68,114.56 259.00,113.60 403.60,113.60" fill="none" stroke="#d02ed0" stroke-width="2.2" stroke-linejoin="round"/>
<polyline points="534.30,123.70 667.60,123.70 667.84,123.78 668.15,123.78 668.52,123.77 668.93,123.83 669.39,124.00 669.87,124.36 670.38,124.97 670.90,125.90 671.46,127.44 672.09,129.63 672.76,132.22 673.46,134.93 674.15,137.49 674.82,139.61 675.44,141.04 676.00,141.50 676.50,140.95 676.95,139.64 677.37,137.71 677.76,135.32 678.13,132.60 678.49,129.71 678.85,126.80 679.20,124.00 679.53,121.19 679.82,118.18 680.09,115.00 680.36,111.72 680.63,108.38 680.94,105.03 681.29,101.72 681.70,98.50 682.18,95.01 682.72,91.04 683.31,86.89 683.92,82.84 684.55,79.19 685.18,76.22 685.80,74.23 686.40,73.50 686.99,74.03 687.58,75.53 688.18,77.89 688.77,80.99 689.36,84.72 689.93,88.96 690.48,93.59 691.00,98.50 691.48,104.16 691.93,110.88 692.35,118.31 692.76,126.09 693.16,133.86 693.58,141.28 694.02,147.98 694.50,153.60 695.01,158.45 695.55,163.00 696.11,167.14 696.68,170.77 697.25,173.77 697.84,176.05 698.42,177.50 699.00,178.00 699.60,177.31 700.23,175.42 700.88,172.59 701.52,169.08 702.14,165.17 702.72,161.10 703.25,157.16 703.70,153.60 704.05,150.24 704.29,146.74 704.47,143.16 704.62,139.53 704.76,135.91 704.94,132.33 705.17,128.85 705.50,125.50 705.93,122.21 706.42,118.89 706.96,115.59 707.54,112.38 708.14,109.30 708.74,106.41 709.33,103.76 709.90,101.40 710.45,99.34 711.02,97.51 711.58,95.91 712.14,94.51 712.70,93.28 713.25,92.20 713.78,91.25 714.30,90.40 714.79,89.68 715.27,89.12 715.73,88.70 716.17,88.43 716.62,88.28 717.07,88.27 717.53,88.38 718.00,88.60 718.49,88.93 719.00,89.37 719.51,89.93 720.02,90.62 720.54,91.45 721.04,92.42 721.53,93.53 722.00,94.80 722.45,96.27 722.87,97.95 723.29,99.81 723.69,101.79 724.09,103.87 724.49,105.99 724.89,108.11 725.30,110.20 725.70,112.27 726.08,114.37 726.45,116.51 726.82,118.68 727.21,120.88 727.63,123.11 728.09,125.39 728.60,127.70 729.17,130.28 729.80,133.21 730.46,136.31 731.16,139.38 731.87,142.23 732.59,144.66 733.30,146.48 734.00,147.50 734.69,147.61 735.39,146.96 736.09,145.71 736.80,144.03 737.51,142.10 738.21,140.09 738.91,138.17 739.60,136.50 740.32,134.91 741.09,133.15 741.88,131.30 742.65,129.46 743.38,127.71 744.03,126.12 744.58,124.79 745.00,123.80 919.70,123.80" fill="none" stroke="#d02ed0" stroke-width="2.2" stroke-linejoin="round"/>
<polyline points="37.40,352.20 61.83,352.24 97.53,352.29 133.31,352.33 158.00,352.30 166.97,352.15 166.74,351.91 162.82,351.70 160.70,351.60 161.30,351.70 161.88,351.94 162.43,352.18 163.00,352.30 163.57,352.23 164.13,352.04 164.70,351.86 165.30,351.80 165.92,351.99 166.55,352.33 167.21,352.61 167.90,352.60 168.64,352.21 169.42,351.56 170.21,350.78 171.00,350.00 171.75,349.20 172.48,348.32 173.25,347.46 174.10,346.70 175.14,346.11 176.30,345.63 177.41,345.15 178.30,344.60 178.86,344.01 179.21,343.41 179.48,342.68 179.80,341.70 180.20,340.41 180.60,338.87 181.00,337.20 181.40,335.50 181.78,333.80 182.15,332.03 182.52,330.20 182.90,328.30 183.26,326.58 183.61,324.95 184.01,322.92 184.50,320.00 185.11,315.73 185.81,310.49 186.58,305.01 187.40,300.00 188.29,295.54 189.25,291.29 190.24,287.34 191.20,283.80 192.13,280.68 193.06,277.92 193.98,275.55 194.90,273.60 195.87,272.33 196.86,271.64 197.80,271.00 198.60,269.90 199.18,268.33 199.61,266.52 200.00,264.30 200.50,261.50 201.15,257.76 201.87,253.27 202.61,248.70 203.30,244.70 203.95,241.32 204.59,238.24 205.19,235.62 205.70,233.60 206.09,232.30 206.39,231.61 206.67,231.35 207.00,231.30 207.41,231.43 207.86,231.84 208.33,232.56 208.80,233.60 209.25,235.07 209.69,236.92 210.16,238.96 210.70,241.00 211.34,243.03 212.04,245.14 212.78,247.28 213.50,249.40 214.20,251.44 214.90,253.43 215.60,255.51 216.30,257.80 217.00,260.47 217.70,263.41 218.40,266.31 219.10,268.90 219.76,271.05 220.39,272.94 221.07,274.68 221.90,276.40 222.95,278.18 224.16,279.94 225.39,281.56 226.50,282.90 227.43,283.89 228.27,284.60 229.09,285.16 230.00,285.70 231.04,286.16 232.15,286.51 233.26,286.87 234.30,287.40 235.23,288.07 236.10,288.82 236.94,289.74 237.80,290.90 238.65,292.35 239.48,294.04 240.35,295.91 241.30,297.90 242.37,300.09 243.53,302.48 244.72,304.91 245.90,307.20 247.07,309.28 248.25,311.24 249.43,313.21 250.60,315.30 251.81,317.59 253.04,320.00 254.21,322.41 255.20,324.70 255.96,326.82 256.54,328.83 257.06,330.81 257.60,332.80 258.19,334.93 258.79,337.14 259.36,339.20 259.90,340.90 260.33,342.13 260.69,343.01 261.11,343.72 261.70,344.40 262.50,345.05 263.45,345.59 264.52,346.12 265.70,346.70 267.00,347.40 268.41,348.16 269.92,348.89 271.50,349.50 273.06,349.96 274.64,350.31 276.41,350.61 278.50,350.90 278.67,351.19 277.59,351.47 279.84,351.71 290.00,351.90 313.88,352.03 347.52,352.11 380.79,352.16 403.60,352.20" fill="none" stroke="#2a2ab4" stroke-width="2" stroke-linejoin="round"/>
<polyline points="534.30,352.00 558.70,351.93 594.34,351.82 630.13,351.71 655.00,351.60 664.39,351.53 664.75,351.49 661.48,351.40 660.00,351.20 661.19,351.00 662.36,350.78 663.53,350.33 664.70,349.40 665.93,348.05 667.19,346.35 668.41,344.15 669.50,341.30 670.41,337.64 671.19,333.30 671.93,328.51 672.70,323.50 673.52,318.13 674.35,312.35 675.18,306.52 676.00,301.00 676.77,296.01 677.51,291.31 678.29,286.60 679.20,281.60 680.29,275.95 681.49,269.90 682.76,264.05 684.00,259.00 685.22,254.90 686.45,251.43 687.68,248.49 688.90,246.00 690.11,243.78 691.31,241.94 692.50,240.77 693.70,240.60 694.92,241.64 696.14,243.67 697.35,246.38 698.50,249.40 699.58,252.96 700.61,257.12 701.61,261.38 702.60,265.20 703.59,268.53 704.57,271.62 705.54,274.40 706.50,276.80 707.45,278.77 708.40,280.36 709.35,281.65 710.30,282.70 711.24,283.47 712.16,283.94 713.13,284.24 714.20,284.50 715.41,284.62 716.73,284.57 718.08,284.61 719.40,285.00 720.68,285.81 721.95,286.90 723.22,288.22 724.50,289.70 725.80,291.35 727.10,293.20 728.40,295.22 729.70,297.40 731.01,299.82 732.33,302.46 733.61,305.15 734.80,307.70 735.89,310.03 736.91,312.25 737.84,314.47 738.70,316.80 739.44,319.29 740.08,321.88 740.68,324.50 741.30,327.10 741.95,329.76 742.60,332.49 743.25,335.09 743.90,337.40 744.49,339.37 745.04,341.09 745.67,342.59 746.50,343.90 747.54,344.99 748.72,345.84 750.08,346.56 751.60,347.20 753.30,347.77 755.18,348.23 757.21,348.62 759.40,349.00 761.80,349.38 764.39,349.73 767.07,350.04 769.70,350.30 772.05,350.48 774.24,350.59 776.74,350.68 780.00,350.80 781.98,350.97 783.16,351.16 787.76,351.35 800.00,351.50 825.72,351.61 861.10,351.69 895.85,351.76 919.70,351.80" fill="none" stroke="#2a2ab4" stroke-width="2" stroke-linejoin="round"/>
<rect x="286.40" y="70.30" width="96.50" height="14.30" fill="#fff" stroke="#777" stroke-width="1"/>
<text x="287.60" y="81.30" font-family="Liberation Sans, sans-serif" font-size="10" font-weight="normal" fill="#2a2a2a" stroke="#2a2a2a" stroke-width="0.3">Reflection from PEC</text>
<rect x="277.40" y="237.80" width="114.20" height="14.60" fill="#fff" stroke="#777" stroke-width="1"/>
<text x="279.20" y="248.80" font-family="Liberation Sans, sans-serif" font-size="10" font-weight="normal" fill="#2a2a2a" stroke="#2a2a2a" stroke-width="0.05">Positive Envelope (PEC)</text>
<rect x="749.90" y="68.20" width="154.20" height="17.00" fill="#fff" stroke="#777" stroke-width="1"/>
<text x="752.20" y="80.50" font-family="Liberation Sans, sans-serif" font-size="11.1" font-weight="bold" fill="#2a2a2a" stroke="#2a2a2a" stroke-width="0">Reflection from metallic bar</text>
<rect x="728.00" y="235.40" width="170.00" height="15.60" fill="#fff" stroke="#777" stroke-width="1"/>
<text x="729.70" y="248.00" font-family="Liberation Sans, sans-serif" font-size="12" font-weight="normal" fill="#2a2a2a" stroke="#2a2a2a" stroke-width="0.3">Positive envelope (metallic bar)</text>
<rect x="332.80" y="164.00" width="45.00" height="17.00" fill="#fff"/>
<text x="333.30" y="175.60" font-family="Liberation Sans, sans-serif" font-size="11" font-weight="normal" letter-spacing="0" fill="#2a2a2a" stroke="#2a2a2a" stroke-width="0.4">500 MHz</text>
<rect x="334.30" y="331.80" width="45.00" height="17.20" fill="#fff"/>
<text x="334.80" y="344.00" font-family="Liberation Sans, sans-serif" font-size="11" font-weight="normal" letter-spacing="0" fill="#2a2a2a" stroke="#2a2a2a" stroke-width="0.4">500 MHz</text>
<rect x="852.50" y="166.80" width="43.00" height="14.00" fill="#fff"/>
<text x="853.00" y="174.80" font-family="Liberation Sans, sans-serif" font-size="10.4" font-weight="bold" letter-spacing="0.15" fill="#2a2a2a" stroke="#2a2a2a" stroke-width="0.1">500 MHz</text>
<rect x="852.50" y="334.70" width="43.00" height="9.50" fill="#fff"/>
<text x="853.00" y="342.80" font-family="Liberation Sans, sans-serif" font-size="10.4" font-weight="bold" letter-spacing="0.15" fill="#2a2a2a" stroke="#2a2a2a" stroke-width="0.1">500 MHz</text>
<text x="416.20" y="183.80" font-family="Liberation Serif, serif" font-size="20" fill="#111" stroke="#111" stroke-width="0.1">a</text>
<text x="426.60" y="183.00" font-family="Liberation Serif, serif" font-size="18.5" fill="#222">)</text>
<text x="416.00" y="363.80" font-family="Liberation Serif, serif" font-size="20" fill="#111" stroke="#111" stroke-width="0.1">b</text>
<text x="427.70" y="363.00" font-family="Liberation Serif, serif" font-size="18.5" fill="#222">)</text>
<text x="936.40" y="183.90" font-family="Liberation Serif, serif" font-size="20" fill="#111" stroke="#111" stroke-width="0.1">c</text>
<text x="945.60" y="183.10" font-family="Liberation Serif, serif" font-size="18.5" fill="#222">)</text>
<text x="936.40" y="363.80" font-family="Liberation Serif, serif" font-size="20" fill="#111" stroke="#111" stroke-width="0.1">d</text>
<text x="947.70" y="363.00" font-family="Liberation Serif, serif" font-size="18.5" fill="#222">)</text>
<text x="210.80" y="290.80" font-family="Liberation Sans, sans-serif" font-size="8.5" fill="#858585" text-anchor="middle">3 ns</text>
<line x1="191.40" y1="293.00" x2="236.00" y2="293.00" stroke="#858585" stroke-width="1.05"/>
<path d="M189.40 293.00 L193.60 290.80 L193.60 295.20 Z" fill="#858585"/>
<path d="M238.00 293.00 L233.80 290.80 L233.80 295.20 Z" fill="#858585"/>
<text x="211.18" y="305.80" font-family="Liberation Sans, sans-serif" font-size="7" font-weight="bold" letter-spacing="0.35" fill="#151515" stroke="#151515" stroke-width="0.15" text-anchor="middle">(3dB)</text>
<text x="217.30" y="326.30" font-family="Liberation Sans, sans-serif" font-size="8.5" fill="#858585" text-anchor="middle">4.8 ns</text>
<line x1="187.50" y1="330.60" x2="253.60" y2="330.60" stroke="#858585" stroke-width="1.05"/>
<path d="M185.50 330.60 L189.70 328.40 L189.70 332.80 Z" fill="#858585"/>
<path d="M255.60 330.60 L251.40 328.40 L251.40 332.80 Z" fill="#858585"/>
<text x="213.62" y="343.60" font-family="Liberation Sans, sans-serif" font-size="7" font-weight="bold" letter-spacing="0.25" fill="#151515" stroke="#151515" stroke-width="0.15" text-anchor="middle">(10dB)</text>
<text x="704.20" y="295.50" font-family="Liberation Sans, sans-serif" font-size="10" fill="#858585" text-anchor="middle">3.33 ns</text>
<line x1="682.50" y1="298.30" x2="726.30" y2="298.30" stroke="#858585" stroke-width="1.05"/>
<path d="M680.50 298.30 L684.70 296.10 L684.70 300.50 Z" fill="#858585"/>
<path d="M728.30 298.30 L724.10 296.10 L724.10 300.50 Z" fill="#858585"/>
<text x="702.98" y="308.30" font-family="Liberation Sans, sans-serif" font-size="8" font-weight="bold" letter-spacing="0.55" fill="#151515" stroke="#151515" stroke-width="0.15" text-anchor="middle">(3dB)</text>
<text x="706.80" y="337.20" font-family="Liberation Sans, sans-serif" font-size="10" fill="#858585" text-anchor="middle">4.8 ns</text>
<line x1="673.60" y1="341.40" x2="740.40" y2="341.40" stroke="#858585" stroke-width="1.05"/>
<path d="M671.60 341.40 L675.80 339.20 L675.80 343.60 Z" fill="#858585"/>
<path d="M742.40 341.40 L738.20 339.20 L738.20 343.60 Z" fill="#858585"/>
<text x="704.88" y="351.00" font-family="Liberation Sans, sans-serif" font-size="8" font-weight="bold" letter-spacing="0.35" fill="#151515" stroke="#151515" stroke-width="0.15" text-anchor="middle">(10dB)</text>
<rect x="413" y="4.3" width="79" height="70.9" fill="#fff" stroke="#333" stroke-width="1.7"/>
<polygon points="431,12.4 484,12.4 484,57.5 431,50.4" fill="#c3c39f"/>
<line x1="414" y1="60.2" x2="428" y2="54.5" stroke="#c8c8c8" stroke-width="0.8"/>
<line x1="444" y1="61.5" x2="459" y2="55.5" stroke="#555" stroke-width="0.8" stroke-dasharray="1.2,0.8"/>
<polygon points="441,29 446.5,27.8 448.5,29 448.5,36.2 443,37.2 441,36" fill="#ececec" stroke="#999" stroke-width="0.4"/>
<polygon points="446.3,28.2 448.5,29 448.5,36.2 446.3,36.8" fill="#a0a0a0"/>
<rect x="435.5" y="33.2" width="5.8" height="16.5" fill="#c8940c"/>
<rect x="439.6" y="33.2" width="1.7" height="16.5" fill="#a87a06"/>
<ellipse cx="438.4" cy="33.3" rx="2.9" ry="0.9" fill="#d8a818"/>
<circle cx="442.2" cy="33.6" r="2.1" fill="#eeee50"/>
<rect x="451" y="33" width="4.5" height="1.6" fill="#fff"/>
<text x="458" y="35" font-family="Liberation Sans, sans-serif" font-size="4" fill="#555">AUT</text>
<polygon points="427.2,51 434,48.5 444,49.2 437.4,52" fill="#d8a818"/>
<polygon points="427.2,51 437.4,52 437.4,67.2 427.2,65.8" fill="#c8940c"/>
<polygon points="437.4,52 444,49.2 444,65 437.4,67.2" fill="#ae7e06"/>
<circle cx="427.8" cy="66.5" r="1.2" fill="#7a4e08"/>
<circle cx="439.6" cy="67.5" r="1.2" fill="#7a4e08"/>
<circle cx="443.3" cy="65.8" r="1.2" fill="#7a4e08"/>
<path d="M451.5 63.5 l1.5 -1.2 h2.5 v2.6 h-2.5 z" fill="none" stroke="#999" stroke-width="0.5"/>
<text x="458" y="65.8" font-family="Liberation Sans, sans-serif" font-size="4" fill="#777">Structure</text>
<rect x="925.3" y="4.3" width="74.3" height="71.3" fill="#fff" stroke="#333" stroke-width="1.7"/>
<rect x="934" y="39.2" width="56.7" height="29.5" fill="#909090"/>
<line x1="935.6" y1="27.1" x2="977" y2="27.1" stroke="#8a8a8a" stroke-width="1.1"/>
<line x1="935.7" y1="14" x2="935.7" y2="49" stroke="#555" stroke-width="1" stroke-dasharray="1,0.8"/>
<ellipse cx="935.7" cy="49" rx="1.3" ry="0.8" fill="none" stroke="#666" stroke-width="0.5"/>
<rect x="976.6" y="13.4" width="3.6" height="35" fill="#f4f4f4" stroke="#4a4a4a" stroke-width="0.8"/>
<line x1="976.6" y1="13.4" x2="980.2" y2="13.4" stroke="#666" stroke-width="0.7"/><line x1="976.6" y1="15.2" x2="980.2" y2="15.2" stroke="#666" stroke-width="0.7"/><line x1="976.6" y1="16.9" x2="980.2" y2="16.9" stroke="#666" stroke-width="0.7"/><line x1="976.6" y1="18.6" x2="980.2" y2="18.6" stroke="#666" stroke-width="0.7"/><line x1="976.6" y1="20.4" x2="980.2" y2="20.4" stroke="#666" stroke-width="0.7"/><line x1="976.6" y1="22.1" x2="980.2" y2="22.1" stroke="#666" stroke-width="0.7"/><line x1="976.6" y1="23.9" x2="980.2" y2="23.9" stroke="#666" stroke-width="0.7"/><line x1="976.6" y1="25.6" x2="980.2" y2="25.6" stroke="#666" stroke-width="0.7"/><line x1="976.6" y1="27.4" x2="980.2" y2="27.4" stroke="#666" stroke-width="0.7"/><line x1="976.6" y1="29.1" x2="980.2" y2="29.1" stroke="#666" stroke-width="0.7"/><line x1="976.6" y1="30.9" x2="980.2" y2="30.9" stroke="#666" stroke-width="0.7"/><line x1="976.6" y1="32.6" x2="980.2" y2="32.6" stroke="#666" stroke-width="0.7"/><line x1="976.6" y1="34.4" x2="980.2" y2="34.4" stroke="#666" stroke-width="0.7"/><line x1="976.6" y1="36.1" x2="980.2" y2="36.1" stroke="#666" stroke-width="0.7"/><line x1="976.6" y1="37.9" x2="980.2" y2="37.9" stroke="#666" stroke-width="0.7"/><line x1="976.6" y1="39.6" x2="980.2" y2="39.6" stroke="#666" stroke-width="0.7"/><line x1="976.6" y1="41.4" x2="980.2" y2="41.4" stroke="#666" stroke-width="0.7"/><line x1="976.6" y1="43.1" x2="980.2" y2="43.1" stroke="#666" stroke-width="0.7"/><line x1="976.6" y1="44.9" x2="980.2" y2="44.9" stroke="#666" stroke-width="0.7"/><line x1="976.6" y1="46.6" x2="980.2" y2="46.6" stroke="#666" stroke-width="0.7"/>
<ellipse cx="978.4" cy="48.8" rx="2.8" ry="1" fill="#aaa" stroke="#555" stroke-width="0.5"/>
<line x1="982.7" y1="19.2" x2="982.7" y2="33.7" stroke="#888" stroke-width="0.5" stroke-dasharray="1.5,1"/>
<path d="M981.8 20.5 L982.7 19 L983.6 20.5 M981.8 32.4 L982.7 33.9 L983.6 32.4" fill="none" stroke="#555" stroke-width="0.5"/>
<text x="950.3" y="19.9" font-family="Liberation Sans, sans-serif" font-size="4.1" fill="#555" stroke="#555" stroke-width="0.1">Structure</text>
<path d="M939 18.4 l2 -1.6 v0.8 h2 v1.6 h-2 v0.8 z" fill="none" stroke="#999" stroke-width="0.4"/>
<path d="M974.5 18.4 l-2 -1.6 v0.8 h-2 v1.6 h2 v0.8 z" fill="none" stroke="#999" stroke-width="0.4"/>
<polygon points="936.3,39.6 941.5,39.6 985,60 967.5,60" fill="#d2d2d2"/>
<polygon points="936.3,39.6 941.5,39.6 951,44.5 944.5,45" fill="#b4b4b4"/>
<line x1="935" y1="39.5" x2="966.5" y2="60" stroke="#2a2a2a" stroke-width="1"/>
<line x1="942" y1="39.7" x2="985.7" y2="60" stroke="#2a2a2a" stroke-width="1"/>
<polygon points="948,44 950.5,41.5 953.5,42.5 953.7,46.5 951,47.8 948,46.5" fill="#6a6a6a"/>
<polygon points="950,44.5 957,45.2 957,46.8 950.5,46.5" fill="#e0e0e0"/>
<rect x="953.7" y="42" width="4.4" height="2.3" fill="#e6e6e6"/>
<rect x="960.5" y="42.2" width="4.2" height="1.6" fill="#fff"/>
<text x="966.8" y="44" font-family="Liberation Sans, sans-serif" font-size="3.6" fill="#444">AUT</text>
<rect x="221.6" y="0" width="22" height="1.2" fill="#ececec"/>
<rect x="251" y="0" width="9.5" height="1" fill="#ececec"/>
<path d="M248 0 h1.2 v1 h1.3 v1 h-2.5 z" fill="#444"/>
<path d="M262.8 0 h1.2 v2 h-2.5 v-1 h1.3 z" fill="#444"/>
</svg>
</body></html>
